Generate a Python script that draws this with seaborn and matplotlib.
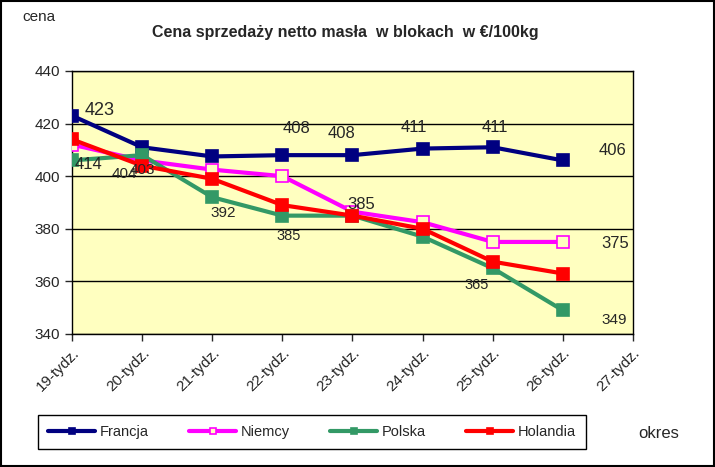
import matplotlib
matplotlib.use("Agg")
import matplotlib.pyplot as plt
import numpy as np
import pandas as pd
import seaborn as sns

# dane
weeks = ["19-tydz.", "20-tydz.", "21-tydz.", "22-tydz.", "23-tydz.",
         "24-tydz.", "25-tydz.", "26-tydz.", "27-tydz."]
francja = [423, 411, 407.5, 408, 408, 410.5, 411, 406]
niemcy = [412, 406, 402.5, 400, 386.5, 382.5, 375, 375]
polska = [406, 408, 392, 385, 385, 377, 365, 349]
holandia = [414, 404, 399, 389, 385, 380, 367.5, 363]

# etykiety danych: (seria, indeks tygodnia, tekst)
labels = [("Francja", 0, "423"), ("Francja", 3, "408"), ("Francja", 4, "408"),
          ("Francja", 5, "411"), ("Francja", 6, "411"), ("Francja", 7, "406"),
          ("Holandia", 0, "414"), ("Holandia", 1, "404"), ("Niemcy", 1, "403"),
          ("Polska", 2, "392"), ("Polska", 3, "385"), ("Niemcy", 4, "385"),
          ("Polska", 6, "365"), ("Niemcy", 7, "375"), ("Polska", 7, "349")]

series = {"Francja": francja, "Niemcy": niemcy, "Polska": polska, "Holandia": holandia}
colors = {"Francja": "#000080", "Niemcy": "#FF00FF", "Polska": "#339966", "Holandia": "#FF0000"}

rows = []
for name, vals in series.items():
    for i, v in enumerate(vals):
        rows.append({"seria": name, "tydz": i, "cena": v})
df = pd.DataFrame(rows)

sns.set_style("white")
plt.rcParams["font.family"] = ["Liberation Sans", "DejaVu Sans"]

fig = plt.figure(figsize=(7.15, 4.67), dpi=100)
ax = fig.add_axes([0.1007, 0.2848, 0.7846, 0.5632])
ax.set_facecolor("#FFFFC0")

for name in series:
    d = df[df.seria == name]
    mfc = "#FFFFC0" if name == "Niemcy" else colors[name]
    sns.lineplot(data=d, x="tydz", y="cena", ax=ax, color=colors[name], lw=3,
                 marker="s", markersize=8, markerfacecolor=mfc,
                 markeredgecolor=colors[name], markeredgewidth=1.2, label=name,
                 zorder=3)

# pozycje etykiet (przesunięcia w punktach)
offsets = {
    ("Francja", 0): (9, 4, 13), ("Francja", 3): (0, 14, 12), ("Francja", 4): (-18, 10, 12),
    ("Francja", 5): (-16, 10, 12), ("Francja", 6): (-8, 9, 12), ("Francja", 7): (26, 7, 12),
    ("Holandia", 0): (2, -18, 12), ("Holandia", 1): (-22, -6, 11), ("Niemcy", 1): (-9, -7, 11),
    ("Polska", 2): (-1, -11, 11), ("Polska", 3): (-4, -15, 10.5), ("Niemcy", 4): (-4, 5, 12),
    ("Polska", 6): (-20, -12, 10.5), ("Niemcy", 7): (28, -1, 12), ("Polska", 7): (28, -7, 11),
}
for name, i, txt in labels:
    dx, dy, fs = offsets[(name, i)]
    ax.annotate(txt, (i, series[name][i]), xytext=(dx, dy), textcoords="offset points",
                fontsize=fs, va="bottom" if dy > 0 and abs(dy) > 8 else "center",
                ha="left", zorder=4)

ax.set_xlim(0, 8)
ax.set_ylim(340, 440)
ax.set_xticks(range(len(weeks)))
ax.set_xticklabels(weeks, rotation=45, ha="right", rotation_mode="anchor", fontsize=11)
ax.set_yticks(range(340, 441, 20))
ax.tick_params(axis="y", labelsize=11, length=5, direction="out", left=True, width=1)
ax.tick_params(axis="x", length=5, direction="out", bottom=True, width=1)
ax.yaxis.grid(True, color="black", lw=1)
ax.set_axisbelow(True)
for s in ax.spines.values():
    s.set_color("black")
    s.set_linewidth(1)
ax.set_xlabel("")
ax.set_ylabel("")

ax.legend(loc="center", bbox_to_anchor=(312 / 715, 1 - 432 / 467), bbox_transform=fig.transFigure,
          ncol=4, frameon=True, fancybox=False, edgecolor="black", fontsize=10.5,
          handlelength=3.2, columnspacing=2.8, borderpad=0.7, framealpha=1,
          markerscale=0.6, handletextpad=0.3)

fig.text(345 / 715, 1 - 32 / 467, "Cena sprzedaży netto masła  w blokach  w €/100kg",
         ha="center", va="center", fontsize=11.5, fontweight="bold")
fig.text(22 / 715, 1 - 17 / 467, "cena", ha="left", va="center", fontsize=11)
fig.text(638 / 715, 1 - 433 / 467, "okres", ha="left", va="center", fontsize=12)

fig.patches.append(plt.Rectangle((0.001, 0.002), 0.997, 0.996, transform=fig.transFigure,
                                 fill=False, edgecolor="black", lw=1.5))

fig.savefig("out.png", dpi=100, facecolor="white")
